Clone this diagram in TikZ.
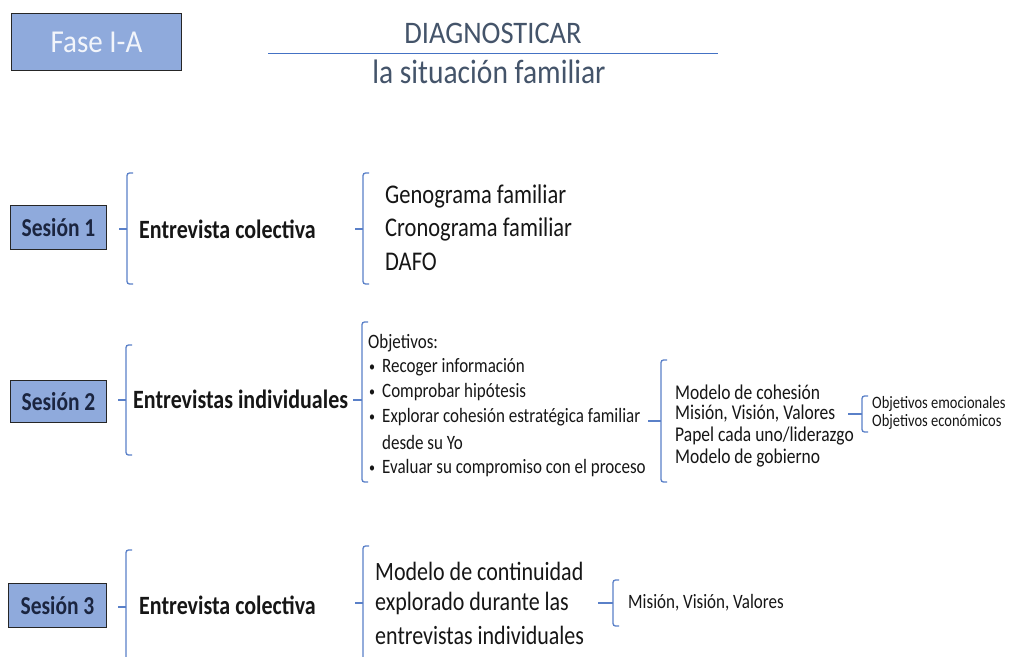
\documentclass[tikz,border=0pt]{standalone}
\usepackage{fontspec}
\usepackage{graphicx}
\setmainfont{Carlito}
\definecolor{boxfill}{HTML}{8FAADC}
\definecolor{brc}{HTML}{5A80C8}
\definecolor{titlec}{HTML}{44546A}
\definecolor{linec}{HTML}{4472C4}
\definecolor{txt}{HTML}{161616}
\definecolor{sestxt}{HTML}{1B2540}
\definecolor{fasetxt}{HTML}{F2F5FB}
\newcommand\st[1]{\scalebox{1}[1.2]{#1}}
\newcommand\fs[1]{\fontsize{#1}{#1}\selectfont}
\newcommand\bul{\makebox[13pt][l]{\raisebox{0.5pt}{\fs{12}\textbullet}}}
\newcommand\mybrk[5]{%
  \draw[brk, rounded corners=2.5pt] ({#1+6},#2) -- (#1,#2) -- (#1,#3) -- ({#1+6},#3);
  \draw[brk] (#1,#4) -- ({#1-#5},#4);}
\tikzset{
  sesbox/.style={draw=black!85, line width=1.6pt, fill=boxfill, inner sep=0pt,
    text=sestxt, font=\fs{21.5}\bfseries},
  lvl/.style={anchor=west, inner sep=0pt, text=txt, font=\fs{22}\bfseries},
  itembig/.style={anchor=west, inner sep=0pt, text=txt, font=\fs{22.5}},
  itemmid/.style={anchor=west, inner sep=0pt, text=txt, font=\fs{17.5}},
  itemobj/.style={anchor=west, inner sep=0pt, text=txt, font=\fs{17}},
  itemsmall/.style={anchor=west, inner sep=0pt, text=txt, font=\fs{14.5}},
  brk/.style={draw=brc, line width=1.3pt},
  titleline/.style={draw=linec, line width=1pt},
}
\begin{document}
\begin{tikzpicture}[x=1pt,y=-1pt]
\useasboundingbox (0,0) rectangle (1011,656);
\fill[white] (0,0) rectangle (1011,656);

% header
\node[sesbox, minimum width=170pt, minimum height=57pt, font=\fs{29}, text=fasetxt] (fase) at (96.5,42) {\scalebox{1}[1.1]{Fase I-A}};
\node[inner sep=0pt, font=\fs{28.5}, text=titlec, anchor=base] (title) at (493,43) {\scalebox{1}[1.1]{DIAGNOSTICAR}};
\coordinate (l1) at (268,53);
\coordinate (l2) at (718,53);
\draw[titleline] (l1) -- (l2);
\node[inner sep=0pt, font=\fs{29.5}, text=titlec, anchor=base] (sub) at (489,83) {\scalebox{1}[1.15]{la situación familiar}};

% session 1
\node[sesbox, minimum width=96pt, minimum height=44pt] (s1) at (58.5,227.5) {\st{Sesión 1}};
\mybrk{127}{173}{284}{229}{8}
\node[lvl] (e1) at (139,229) {\st{Entrevista colectiva}};
\mybrk{363}{173}{284}{229}{8}
\node[itembig] (g1) at (385,196) {\st{Genograma familiar}};
\node[itembig] (g2) at (385,229) {\st{Cronograma familiar}};
\node[itembig] (g3) at (385,262) {\st{DAFO}};

% session 2
\node[sesbox, minimum width=96pt, minimum height=42pt] (s2) at (58.5,401.5) {\st{Sesión 2}};
\mybrk{126}{345}{455}{400}{8}
\node[lvl] (e2) at (133,399) {\st{Entrevistas individuales}};
\mybrk{362}{322}{482}{400}{9}
\node[itemobj] (o0) at (368,343) {\st{Objetivos:}};
\node[itemobj] (o1) at (369,367) {\st{\bul Recoger información}};
\node[itemobj] (o2) at (369,392) {\st{\bul Comprobar hipótesis}};
\node[itemobj] (o3) at (369,417) {\st{\bul Explorar cohesión estratégica familiar}};
\node[itemobj] (o4) at (382,442) {\st{desde su Yo}};
\node[itemobj] (o5) at (369,468) {\st{\bul Evaluar su compromiso con el proceso}};
\mybrk{661}{360}{482}{421}{13}
\node[itemmid] (m1) at (675,392) {\st{Modelo de cohesión}};
\node[itemmid] (m2) at (675,414) {\st{Misión, Visión, Valores}};
\node[itemmid] (m3) at (675,436) {\st{Papel cada uno/liderazgo}};
\node[itemmid] (m4) at (675,458) {\st{Modelo de gobierno}};
\mybrk{862}{396}{432}{414}{14}
\node[itemsmall] (oe1) at (872,404) {\st{Objetivos emocionales}};
\node[itemsmall] (oe2) at (872,422) {\st{Objetivos económicos}};

% session 3
\node[sesbox, minimum width=98pt, minimum height=44pt] (s3) at (57.5,605.5) {\st{Sesión 3}};
\mybrk{126}{550}{664}{607}{8}
\node[lvl] (e3) at (139,605) {\st{Entrevista colectiva}};
\mybrk{363}{546}{660}{603}{8}
\node[itembig, font=\fs{22}] (c1) at (375,571) {\st{Modelo de continuidad}};
\node[itembig, font=\fs{22}] (c2) at (375,603) {\st{explorado durante las}};
\node[itembig, font=\fs{22}] (c3) at (375,635) {\st{entrevistas individuales}};
\mybrk{613}{580}{626}{603}{15}
\node[itemmid, font=\fs{17}] (mv) at (628,603) {\st{Misión, Visión, Valores}};
\end{tikzpicture}
\end{document}
